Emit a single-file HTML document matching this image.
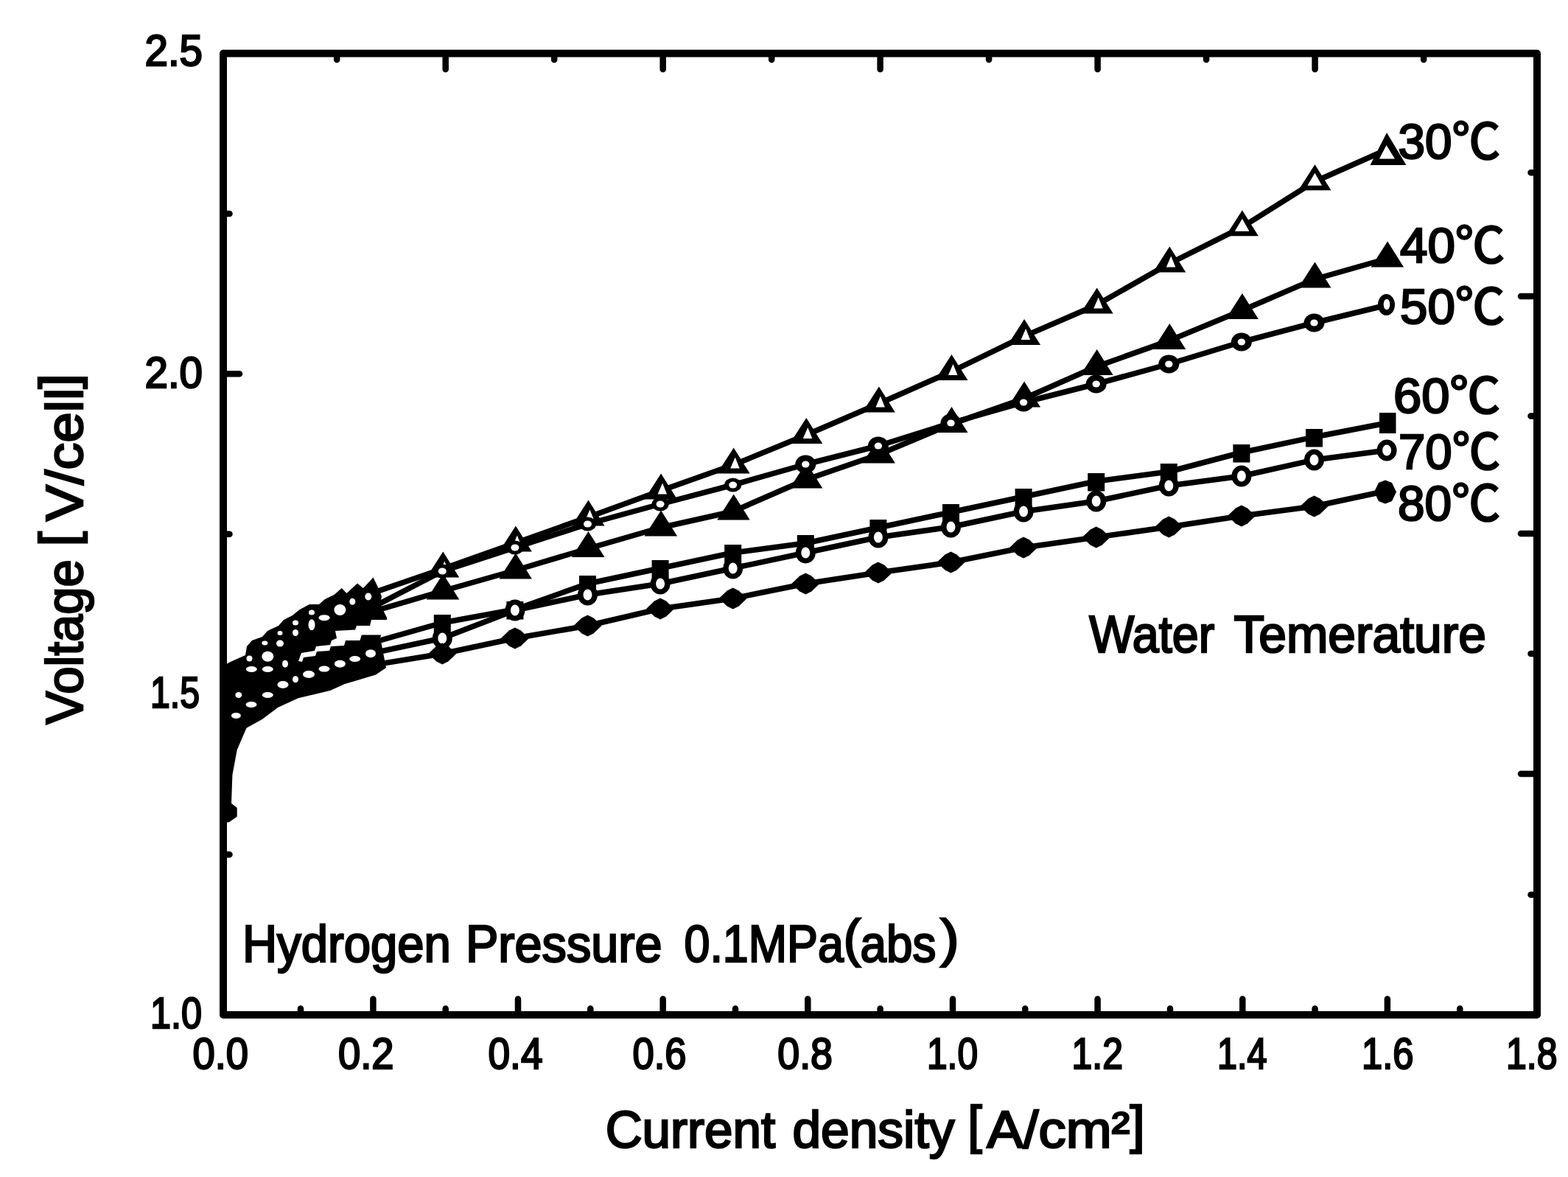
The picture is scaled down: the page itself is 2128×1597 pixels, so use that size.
<!DOCTYPE html>
<html lang="en"><head><meta charset="utf-8"><title>Voltage vs current density</title>
<style>html,body{margin:0;padding:0;background:#fff;overflow:hidden;}svg{display:block;}text{font-family:"Liberation Sans","Noto Sans CJK JP",sans-serif;fill:#000;}</style>
</head><body>
<svg width="2128" height="1597" viewBox="0 0 2128 1597" role="img" aria-label="Cell voltage versus current density at water temperatures from 30 to 80 degrees C">
<rect width="2128" height="1597" fill="#fff"/>
<path d="M408.0 1377.0V1368.5M506.4 1377.0V1355.5M604.7 1377.0V1368.5M703.0 1377.0V1355.5M801.3 1377.0V1368.5M899.7 1377.0V1355.5M998.0 1377.0V1368.5M1096.3 1377.0V1355.5M1194.6 1377.0V1368.5M1293.0 1377.0V1355.5M1391.3 1377.0V1368.5M1489.6 1377.0V1355.5M1588.0 1377.0V1368.5M1686.3 1377.0V1355.5M1784.6 1377.0V1368.5M1882.9 1377.0V1355.5M1981.3 1377.0V1368.5M457.2 72.5V81.0M604.7 72.5V94.0M752.2 72.5V81.0M899.7 72.5V94.0M1047.2 72.5V81.0M1194.6 72.5V94.0M1342.1 72.5V81.0M1489.6 72.5V94.0M1637.1 72.5V81.0M1784.6 72.5V94.0M1932.1 72.5V81.0M303.0 1159.6H311.5M303.0 942.2H325.0M303.0 724.8H311.5M303.0 507.3H325.0M303.0 289.9H311.5M2086.0 1214.0H2077.5M2086.0 1050.0H2064.0M2086.0 887.0H2077.5M2086.0 724.0H2064.0M2086.0 564.5H2077.5M2086.0 402.0H2064.0M2086.0 234.3H2077.5" fill="none" stroke="#000" stroke-width="8.5" stroke-linecap="round"/>
<g id="series">
<path d="M501.7 806.0L600.3 772.0L698.9 737.0L797.5 702.0L896.1 666.0L994.7 631.0L1093.3 590.5L1191.9 548.0L1290.5 504.5L1389.1 456.6L1487.7 414.0L1586.3 358.0L1684.9 308.7L1783.5 246.7L1882.1 203.0" fill="none" stroke="#000" stroke-width="7.5" stroke-linejoin="round"/>
<path d="M501.7 831.0L600.3 802.0L698.9 774.0L797.5 744.5L896.1 716.0L994.7 694.0L1093.3 651.0L1191.9 617.0L1290.5 575.6L1389.1 541.0L1487.7 497.5L1586.3 462.4L1684.9 421.5L1783.5 379.0L1882.1 351.0" fill="none" stroke="#000" stroke-width="7.5" stroke-linejoin="round"/>
<path d="M501.7 826.0L600.3 775.0L698.9 743.0L797.5 711.0L896.1 684.0L994.7 658.0L1093.3 630.0L1191.9 605.0L1290.5 574.0L1389.1 546.0L1487.7 521.0L1586.3 494.0L1684.9 464.0L1783.5 438.0L1882.1 414.0" fill="none" stroke="#000" stroke-width="7.5" stroke-linejoin="round"/>
<path d="M501.7 873.0L600.3 845.0L698.9 827.0L797.5 792.0L896.1 771.0L994.7 750.0L1093.3 737.0L1191.9 716.0L1290.5 695.0L1389.1 674.0L1487.7 653.0L1586.3 640.0L1684.9 614.0L1783.5 593.0L1882.1 574.0" fill="none" stroke="#000" stroke-width="7.5" stroke-linejoin="round"/>
<path d="M501.7 887.0L600.3 866.0L698.9 828.0L797.5 807.0L896.1 792.0L994.7 771.0L1093.3 750.0L1191.9 729.0L1290.5 715.0L1389.1 694.0L1487.7 680.0L1586.3 659.0L1684.9 646.0L1783.5 624.0L1882.1 611.0" fill="none" stroke="#000" stroke-width="7.5" stroke-linejoin="round"/>
<path d="M501.7 903.0L600.3 887.0L698.9 866.0L797.5 849.0L896.1 826.0L994.7 812.0L1093.3 792.0L1191.9 777.0L1290.5 763.0L1389.1 743.0L1487.7 729.0L1586.3 715.0L1684.9 700.0L1783.5 687.0L1882.1 666.0" fill="none" stroke="#000" stroke-width="7.5" stroke-linejoin="round"/>
<path d="M303.0 903.0L315.0 897.0L333.0 889.0L335.0 877.0L342.0 869.0L356.0 864.0L363.0 856.0L378.0 849.0L385.0 841.0L397.0 835.0L406.0 827.5L420.0 820.0L433.0 820.0L441.0 813.0L453.5 807.0L463.7 798.0L470.5 805.0L485.0 791.4L493.0 798.0L506.5 783.5L513.0 797.0L518.0 809.0L516.0 820.0L525.0 838.0L525.0 841.0L516.0 865.0L524.0 906.0L510.0 915.5L488.5 922.0L468.0 928.0L448.0 937.0L425.0 942.5L404.8 947.3L377.0 960.0L355.8 976.0L334.5 987.7L321.7 1017.5L315.4 1051.6L314.0 1090.0L321.7 1096.0L321.7 1108.0L311.0 1115.5L303.0 1116.0Z" fill="#000"/>
<path d="M405.0 897.0L409.0 886.0L427.0 883.0L429.0 877.0L448.0 875.0L450.0 869.0L457.0 866.0L455.0 856.0L482.0 854.6L484.0 849.0L502.0 849.0L504.0 841.0L528.0 841.0L528.0 861.4L490.7 861.4L488.5 869.0L469.0 869.0L467.0 876.0L449.0 877.0L447.0 883.0L430.0 884.0L428.0 890.0L412.0 892.0L410.0 898.0Z" fill="#fff"/>
<path d="M601.3 748.5L623.3 783.5L578.8 783.5Z" fill="#000"/><path d="M603.3 761.5L609.3 776.5L596.8 776.5Z" fill="#fff"/>
<path d="M699.9 713.5L721.9 748.5L677.4 748.5Z" fill="#000"/><path d="M701.9 726.5L707.9 741.5L695.4 741.5Z" fill="#fff"/>
<path d="M798.5 678.5L820.5 713.5L776.0 713.5Z" fill="#000"/><path d="M800.5 691.5L806.5 706.5L794.0 706.5Z" fill="#fff"/>
<path d="M897.1 642.5L919.1 677.5L874.6 677.5Z" fill="#000"/><path d="M899.1 655.5L905.1 670.5L892.6 670.5Z" fill="#fff"/>
<path d="M995.7 607.5L1017.7 642.5L973.2 642.5Z" fill="#000"/><path d="M997.7 620.5L1003.7 635.5L991.2 635.5Z" fill="#fff"/>
<path d="M1094.3 567.0L1116.3 602.0L1071.8 602.0Z" fill="#000"/><path d="M1096.3 580.0L1102.3 595.0L1089.8 595.0Z" fill="#fff"/>
<path d="M1192.9 524.5L1214.9 559.5L1170.4 559.5Z" fill="#000"/><path d="M1194.9 537.5L1200.9 552.5L1188.4 552.5Z" fill="#fff"/>
<path d="M1291.5 481.0L1313.5 516.0L1269.0 516.0Z" fill="#000"/><path d="M1293.5 494.0L1299.5 509.0L1287.0 509.0Z" fill="#fff"/>
<path d="M1390.1 433.1L1412.1 468.1L1367.6 468.1Z" fill="#000"/><path d="M1392.1 446.1L1398.1 461.1L1385.6 461.1Z" fill="#fff"/>
<path d="M1488.7 390.5L1510.7 425.5L1466.2 425.5Z" fill="#000"/><path d="M1490.7 403.5L1496.7 418.5L1484.2 418.5Z" fill="#fff"/>
<path d="M1587.3 334.5L1609.3 369.5L1564.8 369.5Z" fill="#000"/><path d="M1589.3 347.5L1595.3 362.5L1582.8 362.5Z" fill="#fff"/>
<path d="M1685.9 285.2L1707.9 320.2L1663.4 320.2Z" fill="#000"/><path d="M1685.9 296.7L1695.4 313.7L1675.9 313.7Z" fill="#fff"/>
<path d="M1784.5 223.2L1806.5 258.2L1762.0 258.2Z" fill="#000"/><path d="M1784.5 234.7L1794.0 251.7L1774.5 251.7Z" fill="#fff"/>
<path d="M1882.0 180.0L1908.5 224.0L1859.5 224.0Z" fill="#000"/><path d="M1881.5 197.0L1893.0 215.5L1872.0 215.5Z" fill="#fff"/>
<path d="M601.3 778.5L623.3 813.5L578.8 813.5Z" fill="#000"/>
<path d="M699.9 750.5L721.9 785.5L677.4 785.5Z" fill="#000"/>
<path d="M798.5 721.0L820.5 756.0L776.0 756.0Z" fill="#000"/>
<path d="M897.1 692.5L919.1 727.5L874.6 727.5Z" fill="#000"/>
<path d="M995.7 670.5L1017.7 705.5L973.2 705.5Z" fill="#000"/>
<path d="M1094.3 627.5L1116.3 662.5L1071.8 662.5Z" fill="#000"/>
<path d="M1192.9 593.5L1214.9 628.5L1170.4 628.5Z" fill="#000"/>
<path d="M1291.5 552.1L1313.5 587.1L1269.0 587.1Z" fill="#000"/>
<path d="M1390.1 517.5L1412.1 552.5L1367.6 552.5Z" fill="#000"/>
<path d="M1488.7 474.0L1510.7 509.0L1466.2 509.0Z" fill="#000"/>
<path d="M1587.3 438.9L1609.3 473.9L1564.8 473.9Z" fill="#000"/>
<path d="M1685.9 398.0L1707.9 433.0L1663.4 433.0Z" fill="#000"/>
<path d="M1784.5 355.5L1806.5 390.5L1762.0 390.5Z" fill="#000"/>
<path d="M1883.1 327.5L1905.1 362.5L1860.6 362.5Z" fill="#000"/>
<ellipse cx="600.3" cy="775.0" rx="11.5" ry="9.5" fill="#000"/><ellipse cx="600.3" cy="775.0" rx="5.5" ry="4.6" fill="#fff"/>
<ellipse cx="698.9" cy="743.0" rx="11.5" ry="9.5" fill="#000"/><ellipse cx="698.9" cy="743.0" rx="5.5" ry="4.6" fill="#fff"/>
<ellipse cx="797.5" cy="711.0" rx="11.5" ry="9.5" fill="#000"/><ellipse cx="797.5" cy="711.0" rx="5.5" ry="4.6" fill="#fff"/>
<ellipse cx="896.1" cy="684.0" rx="11.5" ry="9.5" fill="#000"/><ellipse cx="896.1" cy="684.0" rx="5.5" ry="4.6" fill="#fff"/>
<ellipse cx="994.7" cy="658.0" rx="11.5" ry="9.5" fill="#000"/><ellipse cx="994.7" cy="658.0" rx="5.5" ry="4.6" fill="#fff"/>
<ellipse cx="1093.3" cy="630.0" rx="14" ry="12.5" fill="#000"/><ellipse cx="1093.3" cy="630.0" rx="5.2" ry="4.6" fill="#fff"/>
<ellipse cx="1191.9" cy="605.0" rx="14" ry="12.5" fill="#000"/><ellipse cx="1191.9" cy="605.0" rx="5.2" ry="4.6" fill="#fff"/>
<ellipse cx="1290.5" cy="574.0" rx="14" ry="12.5" fill="#000"/><ellipse cx="1290.5" cy="574.0" rx="5.2" ry="4.6" fill="#fff"/>
<ellipse cx="1389.1" cy="546.0" rx="14" ry="12.5" fill="#000"/><ellipse cx="1389.1" cy="546.0" rx="5.2" ry="4.6" fill="#fff"/>
<ellipse cx="1487.7" cy="521.0" rx="14" ry="12.5" fill="#000"/><ellipse cx="1487.7" cy="521.0" rx="5.2" ry="4.6" fill="#fff"/>
<ellipse cx="1586.3" cy="494.0" rx="14" ry="12.5" fill="#000"/><ellipse cx="1586.3" cy="494.0" rx="5.2" ry="4.6" fill="#fff"/>
<ellipse cx="1684.9" cy="464.0" rx="14" ry="12.5" fill="#000"/><ellipse cx="1684.9" cy="464.0" rx="5.2" ry="4.6" fill="#fff"/>
<ellipse cx="1783.5" cy="438.0" rx="14" ry="12.5" fill="#000"/><ellipse cx="1783.5" cy="438.0" rx="5.2" ry="4.6" fill="#fff"/>
<ellipse cx="1881.5" cy="413.5" rx="11.5" ry="14.5" fill="#000"/><ellipse cx="1882" cy="413" rx="4.3" ry="7.3" fill="#fff"/>
<rect x="588.8" y="834.0" width="23" height="24.5" fill="#000"/>
<rect x="687.4" y="816.0" width="23" height="24.5" fill="#000"/>
<rect x="786.0" y="781.0" width="23" height="24.5" fill="#000"/>
<rect x="884.6" y="760.0" width="23" height="24.5" fill="#000"/>
<rect x="983.2" y="739.0" width="23" height="24.5" fill="#000"/>
<rect x="1081.8" y="726.0" width="23" height="24.5" fill="#000"/>
<rect x="1180.4" y="705.0" width="23" height="24.5" fill="#000"/>
<rect x="1279.0" y="684.0" width="23" height="24.5" fill="#000"/>
<rect x="1377.6" y="663.0" width="23" height="24.5" fill="#000"/>
<rect x="1476.2" y="642.0" width="23" height="24.5" fill="#000"/>
<rect x="1574.8" y="629.0" width="23" height="24.5" fill="#000"/>
<rect x="1673.4" y="603.0" width="23" height="24.5" fill="#000"/>
<rect x="1772.0" y="582.0" width="23" height="24.5" fill="#000"/>
<rect x="1872" y="560" width="22.5" height="28" fill="#000"/>
<ellipse cx="600.3" cy="866.0" rx="13.5" ry="14.5" fill="#000"/><ellipse cx="600.3" cy="866.0" rx="6" ry="7.5" fill="#fff"/>
<ellipse cx="698.9" cy="828.0" rx="13.5" ry="14.5" fill="#000"/><ellipse cx="698.9" cy="828.0" rx="6" ry="7.5" fill="#fff"/>
<ellipse cx="797.5" cy="807.0" rx="13.5" ry="14.5" fill="#000"/><ellipse cx="797.5" cy="807.0" rx="6" ry="7.5" fill="#fff"/>
<ellipse cx="896.1" cy="792.0" rx="13.5" ry="14.5" fill="#000"/><ellipse cx="896.1" cy="792.0" rx="6" ry="7.5" fill="#fff"/>
<ellipse cx="994.7" cy="771.0" rx="13.5" ry="14.5" fill="#000"/><ellipse cx="994.7" cy="771.0" rx="6" ry="7.5" fill="#fff"/>
<ellipse cx="1093.3" cy="750.0" rx="13.5" ry="14.5" fill="#000"/><ellipse cx="1093.3" cy="750.0" rx="6" ry="7.5" fill="#fff"/>
<ellipse cx="1191.9" cy="729.0" rx="13.5" ry="14.5" fill="#000"/><ellipse cx="1191.9" cy="729.0" rx="6" ry="7.5" fill="#fff"/>
<ellipse cx="1290.5" cy="715.0" rx="13.5" ry="14.5" fill="#000"/><ellipse cx="1290.5" cy="715.0" rx="6" ry="7.5" fill="#fff"/>
<ellipse cx="1389.1" cy="694.0" rx="13.5" ry="14.5" fill="#000"/><ellipse cx="1389.1" cy="694.0" rx="6" ry="7.5" fill="#fff"/>
<ellipse cx="1487.7" cy="680.0" rx="13.5" ry="14.5" fill="#000"/><ellipse cx="1487.7" cy="680.0" rx="6" ry="7.5" fill="#fff"/>
<ellipse cx="1586.3" cy="659.0" rx="13.5" ry="14.5" fill="#000"/><ellipse cx="1586.3" cy="659.0" rx="6" ry="7.5" fill="#fff"/>
<ellipse cx="1684.9" cy="646.0" rx="13.5" ry="14.5" fill="#000"/><ellipse cx="1684.9" cy="646.0" rx="6" ry="7.5" fill="#fff"/>
<ellipse cx="1783.5" cy="624.0" rx="13.5" ry="14.5" fill="#000"/><ellipse cx="1783.5" cy="624.0" rx="6" ry="7.5" fill="#fff"/>
<ellipse cx="1882.1" cy="611.0" rx="13.5" ry="14.5" fill="#000"/><ellipse cx="1882.1" cy="611.0" rx="6" ry="7.5" fill="#fff"/>
<path d="M600.3 872.5L608.3 876.5L619.3 887.0L608.3 897.5L600.3 901.5L592.3 897.5L581.3 887.0L592.3 876.5Z" fill="#000"/>
<path d="M698.9 851.5L706.9 855.5L717.9 866.0L706.9 876.5L698.9 880.5L690.9 876.5L679.9 866.0L690.9 855.5Z" fill="#000"/>
<path d="M797.5 834.5L805.5 838.5L816.5 849.0L805.5 859.5L797.5 863.5L789.5 859.5L778.5 849.0L789.5 838.5Z" fill="#000"/>
<path d="M896.1 811.5L904.1 815.5L915.1 826.0L904.1 836.5L896.1 840.5L888.1 836.5L877.1 826.0L888.1 815.5Z" fill="#000"/>
<path d="M994.7 797.5L1002.7 801.5L1013.7 812.0L1002.7 822.5L994.7 826.5L986.7 822.5L975.7 812.0L986.7 801.5Z" fill="#000"/>
<path d="M1093.3 777.5L1101.3 781.5L1112.3 792.0L1101.3 802.5L1093.3 806.5L1085.3 802.5L1074.3 792.0L1085.3 781.5Z" fill="#000"/>
<path d="M1191.9 762.5L1199.9 766.5L1210.9 777.0L1199.9 787.5L1191.9 791.5L1183.9 787.5L1172.9 777.0L1183.9 766.5Z" fill="#000"/>
<path d="M1290.5 748.5L1298.5 752.5L1309.5 763.0L1298.5 773.5L1290.5 777.5L1282.5 773.5L1271.5 763.0L1282.5 752.5Z" fill="#000"/>
<path d="M1389.1 728.5L1397.1 732.5L1408.1 743.0L1397.1 753.5L1389.1 757.5L1381.1 753.5L1370.1 743.0L1381.1 732.5Z" fill="#000"/>
<path d="M1487.7 714.5L1495.7 718.5L1506.7 729.0L1495.7 739.5L1487.7 743.5L1479.7 739.5L1468.7 729.0L1479.7 718.5Z" fill="#000"/>
<path d="M1586.3 700.5L1594.3 704.5L1605.3 715.0L1594.3 725.5L1586.3 729.5L1578.3 725.5L1567.3 715.0L1578.3 704.5Z" fill="#000"/>
<path d="M1684.9 685.5L1692.9 689.5L1703.9 700.0L1692.9 710.5L1684.9 714.5L1676.9 710.5L1665.9 700.0L1676.9 689.5Z" fill="#000"/>
<path d="M1783.5 672.5L1791.5 676.5L1802.5 687.0L1791.5 697.5L1783.5 701.5L1775.5 697.5L1764.5 687.0L1775.5 676.5Z" fill="#000"/>
<path d="M1880.0 651.5L1889.0 655.0L1895.0 667.5L1889.0 680.0L1880.0 683.5L1871.0 680.0L1865.0 667.5L1871.0 655.0Z" fill="#000"/>
<ellipse cx="499.8" cy="809.5" rx="4.5" ry="5.0" fill="#fff"/>
<ellipse cx="478.3" cy="816.2" rx="4.0" ry="4.5" fill="#fff"/>
<ellipse cx="461.4" cy="827.5" rx="8.0" ry="7.5" fill="#fff"/>
<ellipse cx="440" cy="838.2" rx="7.5" ry="4.0" fill="#fff"/>
<ellipse cx="423" cy="831" rx="4.0" ry="3.5" fill="#fff"/>
<ellipse cx="423" cy="847.8" rx="4.5" ry="7.5" fill="#fff"/>
<ellipse cx="401" cy="845" rx="4.0" ry="3.5" fill="#fff"/>
<ellipse cx="401" cy="858.5" rx="4.0" ry="4.5" fill="#fff"/>
<ellipse cx="380" cy="859" rx="3.5" ry="3.0" fill="#fff"/>
<ellipse cx="380" cy="873" rx="5.0" ry="4.5" fill="#fff"/>
<ellipse cx="359.4" cy="872.6" rx="4.0" ry="3.0" fill="#fff"/>
<ellipse cx="363.3" cy="890.7" rx="8.0" ry="7.0" fill="#fff"/>
<ellipse cx="338.5" cy="893.5" rx="4.0" ry="4.0" fill="#fff"/>
<ellipse cx="387" cy="900.8" rx="4.0" ry="5.0" fill="#fff"/>
<ellipse cx="341.3" cy="908" rx="7.5" ry="4.0" fill="#fff"/>
<ellipse cx="363.3" cy="908" rx="7.5" ry="4.0" fill="#fff"/>
<ellipse cx="503" cy="886.7" rx="7.0" ry="5.5" fill="#fff"/>
<ellipse cx="481.7" cy="894" rx="7.5" ry="4.0" fill="#fff"/>
<ellipse cx="461.4" cy="900.8" rx="7.5" ry="5.0" fill="#fff"/>
<ellipse cx="440" cy="907.6" rx="7.5" ry="4.0" fill="#fff"/>
<ellipse cx="419" cy="915" rx="8.0" ry="5.0" fill="#fff"/>
<ellipse cx="401" cy="921.7" rx="4.0" ry="4.5" fill="#fff"/>
<ellipse cx="384" cy="929" rx="7.5" ry="5.0" fill="#fff"/>
<ellipse cx="363.3" cy="943" rx="7.5" ry="4.0" fill="#fff"/>
<ellipse cx="323.8" cy="943" rx="4.5" ry="4.0" fill="#fff"/>
<ellipse cx="341" cy="956" rx="7.5" ry="4.0" fill="#fff"/>
<ellipse cx="320.4" cy="971" rx="6.5" ry="4.0" fill="#fff"/>
</g>
<rect x="303.0" y="72.5" width="1783.0" height="1304.5" fill="none" stroke="#000" stroke-width="10.0" stroke-linejoin="round"/>
<text x="196.5" y="88.7" font-size="60" textLength="78.5" lengthAdjust="spacingAndGlyphs" stroke="#000" stroke-width="2.5" >2.5</text>
<text x="196.5" y="525.5" font-size="60" textLength="78.5" lengthAdjust="spacingAndGlyphs" stroke="#000" stroke-width="2.5" >2.0</text>
<text x="204.0" y="959.5" font-size="60" textLength="67.0" lengthAdjust="spacingAndGlyphs" stroke="#000" stroke-width="2.5" >1.5</text>
<text x="204.0" y="1395.0" font-size="60" textLength="70.0" lengthAdjust="spacingAndGlyphs" stroke="#000" stroke-width="2.5" >1.0</text>
<text x="261.5" y="1450.3" font-size="60" textLength="75.5" lengthAdjust="spacingAndGlyphs" stroke="#000" stroke-width="2.5" >0.0</text>
<text x="459.0" y="1450.3" font-size="60" textLength="75.5" lengthAdjust="spacingAndGlyphs" stroke="#000" stroke-width="2.5" >0.2</text>
<text x="662.5" y="1450.3" font-size="60" textLength="74.0" lengthAdjust="spacingAndGlyphs" stroke="#000" stroke-width="2.5" >0.4</text>
<text x="858.5" y="1450.3" font-size="60" textLength="73.0" lengthAdjust="spacingAndGlyphs" stroke="#000" stroke-width="2.5" >0.6</text>
<text x="1055.3" y="1450.3" font-size="60" textLength="74.7" lengthAdjust="spacingAndGlyphs" stroke="#000" stroke-width="2.5" >0.8</text>
<text x="1258.0" y="1450.3" font-size="60" textLength="69.0" lengthAdjust="spacingAndGlyphs" stroke="#000" stroke-width="2.5" >1.0</text>
<text x="1454.5" y="1450.3" font-size="60" textLength="69.5" lengthAdjust="spacingAndGlyphs" stroke="#000" stroke-width="2.5" >1.2</text>
<text x="1652.0" y="1450.3" font-size="60" textLength="67.5" lengthAdjust="spacingAndGlyphs" stroke="#000" stroke-width="2.5" >1.4</text>
<text x="1848.0" y="1450.3" font-size="60" textLength="70.5" lengthAdjust="spacingAndGlyphs" stroke="#000" stroke-width="2.5" >1.6</text>
<text x="2044.0" y="1450.3" font-size="60" textLength="69.5" lengthAdjust="spacingAndGlyphs" stroke="#000" stroke-width="2.5" >1.8</text>
<text x="1897.5" y="215.0" font-size="66" textLength="138.5" lengthAdjust="spacingAndGlyphs" stroke="#000" stroke-width="2.5" >30℃</text>
<text x="1900.0" y="356.0" font-size="66" textLength="142.0" lengthAdjust="spacingAndGlyphs" stroke="#000" stroke-width="2.5" >40℃</text>
<text x="1900.0" y="439.0" font-size="66" textLength="142.0" lengthAdjust="spacingAndGlyphs" stroke="#000" stroke-width="2.5" >50℃</text>
<text x="1891.0" y="560.2" font-size="66" textLength="145.0" lengthAdjust="spacingAndGlyphs" stroke="#000" stroke-width="2.5" >60℃</text>
<text x="1898.0" y="636.3" font-size="66" textLength="138.0" lengthAdjust="spacingAndGlyphs" stroke="#000" stroke-width="2.5" >70℃</text>
<text x="1897.0" y="706.2" font-size="66" textLength="139.0" lengthAdjust="spacingAndGlyphs" stroke="#000" stroke-width="2.5" >80℃</text>
<text font-size="70" stroke="#000" stroke-width="2.5"><tspan x="1478.2" y="885.0" textLength="170.0" lengthAdjust="spacingAndGlyphs">Water</tspan> <tspan x="1674.4" y="885.0" textLength="342.6" lengthAdjust="spacingAndGlyphs">Temerature</tspan></text>
<text font-size="70" stroke="#000" stroke-width="2.5"><tspan x="328.9" y="1304.5" textLength="283.0" lengthAdjust="spacingAndGlyphs">Hydrogen</tspan> <tspan x="631.9" y="1304.5" textLength="266.7" lengthAdjust="spacingAndGlyphs">Pressure</tspan> <tspan x="928.5" y="1304.5" textLength="216.4" lengthAdjust="spacingAndGlyphs">0.1MPa</tspan><tspan x="1144.8" y="1296.5" textLength="23.3" lengthAdjust="spacingAndGlyphs">(</tspan><tspan x="1167.5" y="1304.5" textLength="102.8" lengthAdjust="spacingAndGlyphs">abs</tspan><tspan x="1276.2" y="1296.5" textLength="25.3" lengthAdjust="spacingAndGlyphs">)</tspan></text>
<text font-size="70" stroke="#000" stroke-width="2.5"><tspan x="821.7" y="1557.0" textLength="230.5" lengthAdjust="spacingAndGlyphs">Current</tspan> <tspan x="1075.5" y="1557.0" textLength="220.0" lengthAdjust="spacingAndGlyphs">density</tspan> <tspan x="1313.3" y="1549.5" textLength="19.4" lengthAdjust="spacingAndGlyphs">[</tspan><tspan x="1339.2" y="1557.0" textLength="194.2" lengthAdjust="spacingAndGlyphs">A/cm²</tspan><tspan x="1533.4" y="1549.5" textLength="20.3" lengthAdjust="spacingAndGlyphs">]</tspan></text>
<text font-size="70" stroke="#000" stroke-width="2.5" transform="translate(111.5 0) rotate(-90)"><tspan x="-982.8" y="0.0" textLength="223.7" lengthAdjust="spacingAndGlyphs">Voltage</tspan> <tspan x="-741.2" y="-9.0" textLength="19.9" lengthAdjust="spacingAndGlyphs">[</tspan><tspan x="-707.3" y="0.0" textLength="180.7" lengthAdjust="spacingAndGlyphs">V/cell</tspan><tspan x="-527.6" y="-9.0" textLength="20.4" lengthAdjust="spacingAndGlyphs">]</tspan></text>
</svg></body></html>
